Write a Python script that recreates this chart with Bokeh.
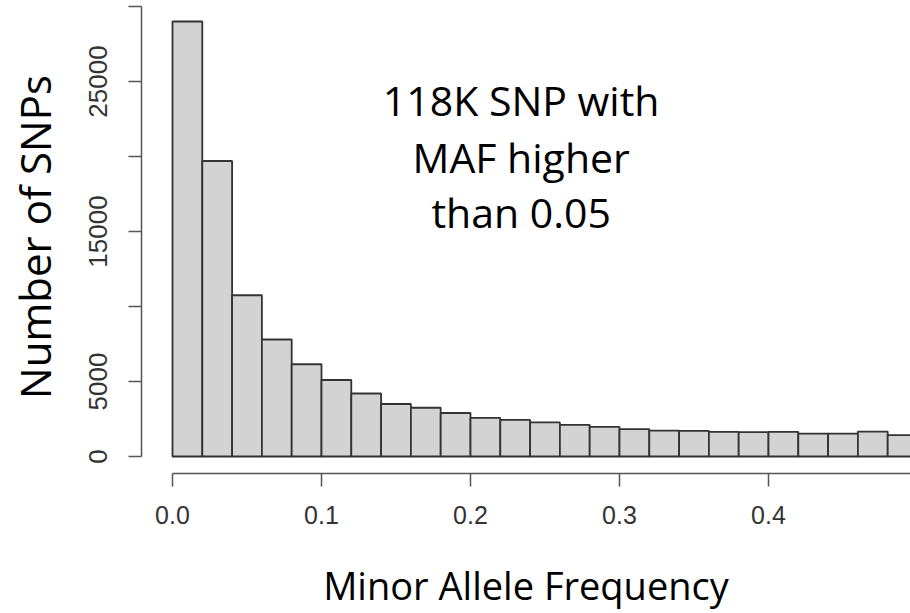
from bokeh.plotting import figure
from bokeh.models import Range1d, FixedTicker, Label
from bokeh.embed import file_html
from bokeh.resources import INLINE

# Histogram bins (minor allele frequency) and counts
bin_left = [0.00, 0.02, 0.04, 0.06, 0.08, 0.10, 0.12, 0.14, 0.16, 0.18,
            0.20, 0.22, 0.24, 0.26, 0.28, 0.30, 0.32, 0.34, 0.36, 0.38,
            0.40, 0.42, 0.44, 0.46, 0.48]
bin_right = [0.02, 0.04, 0.06, 0.08, 0.10, 0.12, 0.14, 0.16, 0.18, 0.20,
             0.22, 0.24, 0.26, 0.28, 0.30, 0.32, 0.34, 0.36, 0.38, 0.40,
             0.42, 0.44, 0.46, 0.48, 0.50]
counts = [29000, 19700, 10750, 7800, 6150, 5100, 4200, 3500, 3250, 2900,
          2580, 2440, 2270, 2110, 1980, 1820, 1730, 1710, 1640, 1620,
          1640, 1530, 1530, 1660, 1420]

x_ticks = [0.0, 0.1, 0.2, 0.3, 0.4, 0.5]
x_tick_labels = ["0.0", "0.1", "0.2", "0.3", "0.4", "0.5"]
y_ticks = [0, 5000, 10000, 15000, 20000, 25000, 30000]
y_tick_labels = ["0", "5000", "", "15000", "", "25000", ""]

annotation_lines = ["118K SNP with", "MAF higher", "than 0.05"]

p = figure(width=910, height=613,
           x_range=Range1d(-0.0208, 0.4953), y_range=Range1d(-1133, 30400),
           output_backend="svg", toolbar_location=None,
           min_border_left=141, min_border_right=0,
           min_border_top=0, min_border_bottom=140)
p.outline_line_color = None
p.grid.visible = False
p.background_fill_color = "white"
p.border_fill_color = "white"

p.quad(left=bin_left, right=bin_right, bottom=0, top=counts,
       fill_color="#D3D3D3", line_color="#333333", line_width=1.8)

tick_font = "Liberation Sans"

xa = p.xaxis[0]
xa.ticker = FixedTicker(ticks=x_ticks)
xa.major_label_overrides = dict(zip(x_ticks, x_tick_labels))
xa.bounds = (0, 0.5)
xa.minor_tick_line_color = None
xa.major_tick_in = 0
xa.major_tick_out = 13
xa.axis_line_width = 1.5
xa.axis_line_color = "#555555"
xa.major_tick_line_width = 1.5
xa.major_tick_line_color = "#555555"
xa.major_label_text_font = tick_font
xa.major_label_text_font_size = "25px"
xa.major_label_text_color = "#333333"
xa.major_label_standoff = 19
xa.axis_label = "Minor Allele Frequency"
xa.axis_label_text_font = "Open Sans"
xa.axis_label_text_font_style = "normal"
xa.axis_label_text_font_size = "38px"
xa.axis_label_text_color = "black"
xa.axis_label_standoff = 32

ya = p.yaxis[0]
ya.ticker = FixedTicker(ticks=y_ticks)
ya.major_label_overrides = dict(zip(y_ticks, y_tick_labels))
ya.bounds = (0, 30000)
ya.minor_tick_line_color = None
ya.major_tick_in = 0
ya.major_tick_out = 13
ya.axis_line_width = 1.5
ya.axis_line_color = "#555555"
ya.major_tick_line_width = 1.5
ya.major_tick_line_color = "#555555"
ya.major_label_text_font = tick_font
ya.major_label_text_font_size = "26px"
ya.major_label_text_color = "#333333"
ya.major_label_orientation = "vertical"
ya.major_label_standoff = 21
ya.axis_label = "Number of SNPs"
ya.axis_label_text_font = "Open Sans"
ya.axis_label_text_font_style = "normal"
ya.axis_label_text_font_size = "42px"
ya.axis_label_text_color = "black"
ya.axis_label_standoff = 24

ann_x = 0.234
ann_y = [23800, 20000, 16330]
for txt, yy in zip(annotation_lines, ann_y):
    p.add_layout(Label(x=ann_x, y=yy, text=txt, text_align="center",
                       text_baseline="alphabetic", text_font="Open Sans",
                       text_font_size="41px", text_color="black"))

open("out.html", "w").write(file_html(p, INLINE))
